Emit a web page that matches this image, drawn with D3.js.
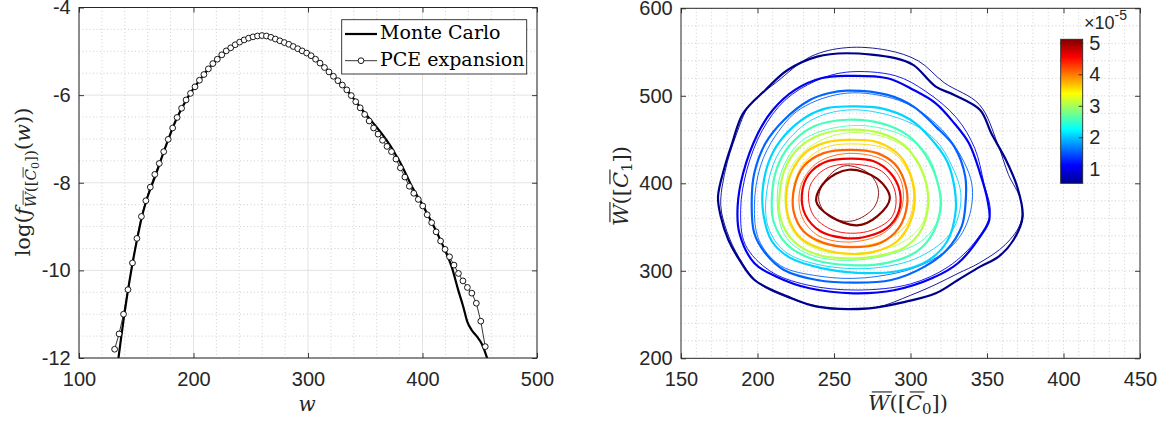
<!DOCTYPE html>
<html>
<head>
<meta charset="utf-8">
<script src="https://cdn.jsdelivr.net/npm/d3@7.9.0/dist/d3.min.js"></script>
<style>
  body { margin: 0; background: #fff; }
  svg { display: block; }
</style>
</head>
<body>
<svg id="chart" width="1161" height="425"></svg>
<script>
// ---- left panel: log density of W([C0]) ----
const wTicks = [100, 200, 300, 400, 500];
const logTicks = [-12, -10, -8, -6, -4];

// PCE expansion (markers)
const pceW = [131.1,135.0,138.9,142.8,146.7,150.6,154.5,158.4,162.3,166.2,
  170.1,174.0,177.9,181.8,185.7,189.6,193.5,197.4,201.3,205.2,
  209.1,213.0,216.9,220.8,224.7,228.6,232.5,236.4,240.3,244.2,
  248.1,252.0,255.9,259.8,263.7,267.6,271.5,275.4,279.3,283.2,
  287.1,291.0,294.9,298.8,302.7,306.6,310.5,314.4,318.3,322.2,
  326.1,330.0,333.9,337.8,341.7,345.6,349.5,353.4,357.3,361.2,
  365.1,369.0,372.9,376.8,380.7,384.6,388.5,392.4,396.3,400.2,
  404.1,408.0,411.9,415.8,419.7,423.6,427.5,431.4,435.3,439.2,
  443.1,447.0,450.9,454.8];
const pceLogF = [-11.80,-11.45,-11.00,-10.44,-9.83,-9.27,-8.77,-8.41,-8.10,-7.81,
  -7.56,-7.29,-7.01,-6.75,-6.51,-6.30,-6.11,-5.96,-5.81,-5.66,
  -5.53,-5.40,-5.28,-5.18,-5.08,-4.99,-4.92,-4.85,-4.79,-4.74,
  -4.70,-4.67,-4.65,-4.64,-4.65,-4.68,-4.72,-4.76,-4.80,-4.84,
  -4.89,-4.94,-4.99,-5.04,-5.10,-5.18,-5.27,-5.37,-5.47,-5.57,
  -5.67,-5.77,-5.88,-6.01,-6.15,-6.29,-6.44,-6.59,-6.75,-6.89,
  -7.03,-7.17,-7.29,-7.46,-7.66,-7.87,-8.08,-8.24,-8.38,-8.53,
  -8.73,-8.91,-9.12,-9.33,-9.52,-9.69,-9.88,-10.07,-10.24,-10.39,
  -10.52,-10.75,-11.16,-11.74];

// Monte Carlo (thick line)
const mcW = [134.2,136.5,138.9,141.9,146.2,150.6,154.9,159.9,166.6,175,
  185,195,205,215,225,235,245,255,260,265,
  275,285,295,305,315,325,335,345,350,357,
  362,367,372,377,382,386,390,395,400,405,
  410,415,419.6,425.5,431.2,435.6,439.1,442.9,447.8,451.6,
  456,457.5];
const mcLogF = [-12.05,-11.60,-11.13,-10.60,-9.92,-9.31,-8.78,-8.32,-7.85,-7.22,
  -6.55,-6.05,-5.67,-5.34,-5.07,-4.87,-4.73,-4.655,-4.64,-4.655,
  -4.75,-4.86,-4.99,-5.15,-5.38,-5.64,-5.92,-6.26,-6.42,-6.64,
  -6.80,-6.97,-7.16,-7.38,-7.61,-7.83,-8.05,-8.28,-8.50,-8.75,
  -9.00,-9.27,-9.54,-9.92,-10.45,-10.83,-11.17,-11.36,-11.52,-11.67,
  -11.97,-12.1];

const legendLabels = ["Monte Carlo", "PCE expansion"];

// ---- right panel: joint density contours of W([C0]), W([C1]) ----
const c0Ticks = [150, 200, 250, 300, 350, 400, 450];
const c1Ticks = [200, 300, 400, 500, 600];
const levels = [0.54, 1.05, 1.56, 2.06, 2.57, 3.08, 3.59, 4.09, 4.60, 5.11]; // x 1e-5
const cbTicks = [1, 2, 3, 4, 5];

// Monte Carlo contours (thick), one ring of [W(C0), W(C1)] per level
const contourMC = [
  [[258,548.6],[290,543],[302,535],[316.5,510.5],[328.6,501],[345.5,483.8],[352.8,457.1],[362.4,426.7],[369.7,396.2],[373.3,362],[367.3,335.2],[357.6,316.2],[345.5,304.8],[331,289.5],[316.5,274.3],[297,264.8],[273,257.1],[239,259],[219.7,270.5],[198,289.5],[188.2,312.4],[181,335.2],[176,362],[174.2,384.8],[178.6,419.1],[183.4,445.7],[190.6,480],[205.2,506.7],[219.7,529.5],[239,544.8]],
  [[258.4,522.7],[285,520],[302,506.7],[316.5,491.4],[328.6,468.6],[338.2,445.7],[345.5,411.4],[350.3,381],[351.5,358.1],[345.5,339],[331,308.6],[314,291.4],[290,278.1],[263,274.3],[234,280],[212.4,293.3],[198,308.6],[188.2,342.9],[187,373.3],[190.6,411.4],[200.3,457.1],[210,483.8],[224.5,506.7],[241.5,520]],
  [[258.4,505.9],[285,501],[302,487.6],[316.5,464.8],[328.6,441.9],[335.8,407.6],[335.8,373.3],[333.4,350.5],[323.7,323.8],[309.2,304.8],[287.4,289.5],[263.2,286.5],[239,289.5],[217.3,301],[205.2,320],[197.9,342.9],[196.2,377.1],[197.9,411.4],[205.2,445.7],[217.3,472.4],[234.2,495.2],[246.3,502.9]],
  [[258.5,487.8],[280.4,485.9],[300,472.6],[313.1,451.6],[324,425],[328.8,394.6],[329.5,368],[324,333.8],[310.9,311],[291.3,299.5],[265.1,297.7],[241.1,303.4],[221.4,314.8],[209.4,333.8],[203.9,364.2],[203.5,394.6],[208.3,428.8],[218.1,455.4],[232.3,476.4],[245.4,485.9]],
  [[258.5,472.6],[280.4,468.8],[297.8,455.4],[309.8,432.6],[317.5,402.2],[319.7,375.6],[315.3,345.2],[304.4,322.4],[284.7,309.1],[260.7,306.4],[236.7,312.9],[219.2,330],[210.5,356.6],[209.4,383.2],[212.7,417.4],[221.4,444.1],[236.7,465]],
  [[258.5,461.2],[280.4,457.4],[295.6,444],[305.5,421.2],[310.9,394.6],[311.4,371.8],[306.6,345.2],[295.6,326.2],[278.2,316.7],[260.7,314],[238.9,318.6],[223.6,333.8],[214.9,360.4],[214.4,387],[218.1,417.4],[226.9,440.2],[241.1,455.4]],
  [[258.5,449.7],[278.2,447.1],[292.4,432.6],[300,409.8],[302.8,383.2],[300,356.6],[291.3,333.8],[276,321.6],[260.7,319.3],[243.2,324.3],[228,337.6],[220.3,360.4],[218.8,387],[222.5,413.6],[232.3,436.4],[245.4,447.1]],
  [[260.7,438.3],[278.2,434.5],[290.2,421.2],[296.7,398.4],[297.8,375.6],[292.4,349],[280.4,331.9],[260.7,327],[243.2,331.9],[230.1,345.2],[223.6,368],[224,394.6],[230.1,419.3],[243.2,434.5]],
  [[260.7,428.1],[276,425.1],[286.9,411.7],[293,390.8],[292.4,368],[284.7,349],[269.4,338.3],[256.3,337.6],[241.1,345.2],[231.2,364.2],[229,387],[233.4,409.8],[244.3,424.3]],
  [[259.6,415.5],[278.2,405.3],[286.5,383.2],[278.2,362.3],[265.1,352],[247.6,362.3],[238.4,379.4],[244.3,402.2]]
];

// PCE contours (thin)
const contourPCE = [
  [[258,555],[285,552],[305,540],[322,515],[345,490],[357,445],[364,410],[372,381],[372,355],[362,330],[345,309],[331,297],[316,284],[300,272],[277,258],[245,258],[222,268],[200,287],[188,315],[180,345],[176,375],[179,415],[186,455],[195,490],[212,515],[235,545]],
  [[258,527],[290,523],[310,505],[330,475],[342,440],[348,400],[352,365],[343,335],[325,305],[300,285],[265,278],[232,284],[208,300],[192,330],[189,370],[193,415],[203,460],[218,495],[238,517]],
  [[258,503],[292,495],[312,475],[328,445],[340,400],[338,360],[328,330],[305,305],[270,292],[240,294],[215,306],[201,335],[198,375],[202,420],[212,455],[228,485]],
  [[262,484],[296,472],[316,450],[327,420],[333,385],[327,345],[306,316],[275,303],[240,307],[218,322],[207,350],[206,390],[214,435],[235,472]],
  [[262,466],[292,457],[310,435],[318,400],[320,370],[310,338],[285,318],[255,312],[232,320],[218,340],[213,375],[216,415],[230,450]],
  [[262,458],[290,448],[305,425],[311,390],[308,355],[294,332],[265,320],[240,324],[224,343],[218,378],[222,418],[238,446]],
  [[262,445],[286,438],[298,415],[302,385],[297,352],[280,333],[258,328],[238,334],[226,356],[223,388],[229,420],[243,440]],
  [[258,434],[283,426],[294,402],[294,370],[284,345],[262,333],[240,340],[229,362],[228,395],[238,422]],
  [[258,422],[281,414],[290,390],[288,362],[272,345],[250,346],[236,365],[234,395],[243,415]],
  [[257,420],[273,411],[279,392],[276,372],[262,357],[247,362],[240,382],[245,405]]
];

// ---- layout ----
const svg = d3.select("#chart");
const ink = "#262626";
const tickFont = "Liberation Sans, Arial, sans-serif";
const mathFont = "DejaVu Serif, serif";

const L = {x0: 79, x1: 537, y0: 7.5, y1: 358};
const R = {x0: 681, x1: 1140, y0: 8.3, y1: 358.3};

const xL = d3.scaleLinear().domain([100, 500]).range([L.x0, L.x1]);
const yL = d3.scaleLinear().domain([-12, -4]).range([L.y1, L.y0]);
const xR = d3.scaleLinear().domain([150, 450]).range([R.x0, R.x1]);
const yR = d3.scaleLinear().domain([200, 600]).range([R.y1, R.y0]);

// jet colormap
const jet = d3.scaleLinear()
  .domain([0, 0.125, 0.375, 0.625, 0.875, 1])
  .range(["#00008f", "#0000ff", "#00ffff", "#ffff00", "#ff0000", "#800000"]);
const levelColor = d3.scaleLinear().domain([levels[0], levels[levels.length - 1]]).range([0, 1]);

const defs = svg.append("defs");
defs.append("clipPath").attr("id", "clipL").append("rect")
  .attr("x", L.x0).attr("y", L.y0).attr("width", L.x1 - L.x0).attr("height", L.y1 - L.y0);
defs.append("clipPath").attr("id", "clipR").append("rect")
  .attr("x", R.x0).attr("y", R.y0).attr("width", R.x1 - R.x0).attr("height", R.y1 - R.y0);

function grid(g, x, y, xs, ys, box, color, dash) {
  g.selectAll(null).data(xs).join("line")
    .attr("x1", d => x(d)).attr("x2", d => x(d)).attr("y1", box.y0).attr("y2", box.y1)
    .attr("stroke", color).attr("stroke-width", 0.8).attr("stroke-dasharray", dash);
  g.selectAll(null).data(ys).join("line")
    .attr("y1", d => y(d)).attr("y2", d => y(d)).attr("x1", box.x0).attr("x2", box.x1)
    .attr("stroke", color).attr("stroke-width", 0.8).attr("stroke-dasharray", dash);
}

function axes(x, y, xt, yt, box) {
  const g = svg.append("g");
  const b = g.append("g").attr("transform", `translate(0,${box.y1})`)
    .call(d3.axisBottom(x).tickValues(xt).tickSize(-5).tickSizeOuter(0).tickPadding(13.8).tickFormat(d => String(d)));
  const t = g.append("g").attr("transform", `translate(0,${box.y0})`)
    .call(d3.axisTop(x).tickValues(xt).tickSize(-5).tickSizeOuter(0).tickFormat(""));
  const l = g.append("g").attr("transform", `translate(${box.x0},0)`)
    .call(d3.axisLeft(y).tickValues(yt).tickSize(-5).tickSizeOuter(0).tickPadding(8.3).tickFormat(d => String(d)));
  const r = g.append("g").attr("transform", `translate(${box.x1},0)`)
    .call(d3.axisRight(y).tickValues(yt).tickSize(-5).tickSizeOuter(0).tickFormat(""));
  [b, t, l, r].forEach(a => {
    a.select(".domain").remove();
    a.selectAll("line").attr("stroke", ink).attr("stroke-width", 0.9);
    a.selectAll("text").attr("fill", ink).attr("font-family", tickFont).attr("font-size", 20);
  });
  g.append("rect").attr("x", box.x0).attr("y", box.y0)
    .attr("width", box.x1 - box.x0).attr("height", box.y1 - box.y0)
    .attr("fill", "none").attr("stroke", ink).attr("stroke-width", 1);
}

// math label: parts = [{t, it, bar, fs, dy}]
function mathLabel(transform, size, parts) {
  const g = svg.append("g").attr("transform", transform);
  const t = g.append("text").attr("text-anchor", "middle")
    .attr("font-family", mathFont).attr("font-size", size).attr("fill", ink);
  const bars = [];
  parts.forEach(p => {
    const s = t.append("tspan").text(p.t);
    if (p.it) s.attr("font-style", "italic");
    if (p.fs) s.attr("font-size", p.fs);
    if (p.dy) s.attr("dy", p.dy);
    if (p.bar) bars.push([s.node(), p.fs || size]);
  });
  bars.forEach(([node, fs]) => {
    const ext = node.getExtentOfChar(0);
    const base = node.getStartPositionOfChar(0).y;
    const yy = base - 0.86 * fs;
    g.append("line")
      .attr("x1", ext.x + 0.18 * fs).attr("x2", ext.x + ext.width + 0.12 * fs)
      .attr("y1", yy).attr("y2", yy)
      .attr("stroke", ink).attr("stroke-width", Math.max(0.8, fs * 0.055));
  });
}

// ---- left panel ----
const gridL = svg.append("g");
grid(gridL, xL, yL, d3.range(100, 501, 20).filter(v => v % 100), d3.range(-12, -3.9, 0.5).filter(v => v % 2), L, "#c4c4c4", "1,2.5");
grid(gridL, xL, yL, wTicks, logTicks, L, "#dcdcdc", null);

const plotL = svg.append("g").attr("clip-path", "url(#clipL)");
const mcPts = mcW.map((w, i) => [w, mcLogF[i]]);
const pcePts = pceW.map((w, i) => [w, pceLogF[i]]);

plotL.append("path").datum(mcPts)
  .attr("d", d3.line().x(d => xL(d[0])).y(d => yL(d[1])).curve(d3.curveMonotoneX))
  .attr("fill", "none").attr("stroke", "#000").attr("stroke-width", 2.2);
plotL.append("path").datum(pcePts)
  .attr("d", d3.line().x(d => xL(d[0])).y(d => yL(d[1])))
  .attr("fill", "none").attr("stroke", "#000").attr("stroke-width", 0.8);
plotL.selectAll("circle").data(pcePts).join("circle")
  .attr("cx", d => xL(d[0])).attr("cy", d => yL(d[1])).attr("r", 2.9)
  .attr("fill", "#fff").attr("stroke", "#000").attr("stroke-width", 0.9);

axes(xL, yL, wTicks, logTicks, L);

// legend
const lg = svg.append("g");
lg.append("rect").attr("x", 341.7).attr("y", 19.7).attr("width", 185).attr("height", 54.3)
  .attr("fill", "#fff").attr("stroke", ink).attr("stroke-width", 0.9);
legendLabels.forEach((lab, i) => {
  const yy = 34 + i * 26.7;
  lg.append("line").attr("x1", 345).attr("x2", 377).attr("y1", yy).attr("y2", yy)
    .attr("stroke", "#000").attr("stroke-width", i === 0 ? 2.2 : 0.8);
  if (i === 1) lg.append("circle").attr("cx", 361).attr("cy", yy).attr("r", 2.9)
    .attr("fill", "#fff").attr("stroke", "#000").attr("stroke-width", 0.9);
  lg.append("text").attr("x", 380).attr("y", yy + 4.8).text(lab)
    .attr("font-family", mathFont).attr("font-size", 19).attr("fill", "#000");
});

// axis labels, left
mathLabel("translate(307,411)", 20, [{t: "w", it: true}]);
mathLabel("translate(30,182) rotate(-90)", 21, [
  {t: "log("}, {t: "f", it: true},
  {t: "W", it: true, bar: true, fs: 15, dy: 6},
  {t: "([", fs: 15},
  {t: "C", it: true, bar: true, fs: 15},
  {t: "0", fs: 11, dy: 3},
  {t: "])", fs: 15, dy: -3},
  {t: "(", dy: -6}, {t: "w", it: true}, {t: "))"}
]);

// ---- right panel ----
const gridR = svg.append("g");
grid(gridR, xR, yR, d3.range(160, 450, 10), d3.range(220, 600, 20), R, "#c4c4c4", "1,2.5");

const plotR = svg.append("g").attr("clip-path", "url(#clipR)");
const ring = d3.line().x(d => xR(d[0])).y(d => yR(d[1])).curve(d3.curveCatmullRomClosed.alpha(0.5));
contourPCE.forEach((pts, i) => {
  plotR.append("path").attr("d", ring(pts)).attr("fill", "none")
    .attr("stroke", jet(levelColor(levels[i]))).attr("stroke-width", 0.9);
});
contourMC.forEach((pts, i) => {
  plotR.append("path").attr("d", ring(pts)).attr("fill", "none")
    .attr("stroke", jet(levelColor(levels[i]))).attr("stroke-width", 2.2);
});

axes(xR, yR, c0Ticks, c1Ticks, R);

// colorbar
const cb = {x0: 1060.7, x1: 1082.7, y0: 39.3, y1: 183.3};
const yCb = d3.scaleLinear().domain([levels[0], levels[levels.length - 1]]).range([cb.y1, cb.y0]);
const grad = defs.append("linearGradient").attr("id", "jetGrad")
  .attr("x1", 0).attr("y1", 1).attr("x2", 0).attr("y2", 0);
d3.range(0, 1.0001, 0.025).forEach(t => {
  grad.append("stop").attr("offset", t).attr("stop-color", jet(t));
});
svg.append("rect").attr("x", cb.x0).attr("y", cb.y0).attr("width", cb.x1 - cb.x0).attr("height", cb.y1 - cb.y0)
  .attr("fill", "url(#jetGrad)");
const cbAxis = svg.append("g").attr("transform", `translate(${cb.x1},0)`)
  .call(d3.axisRight(yCb).tickValues(cbTicks).tickSize(-4).tickSizeOuter(0).tickPadding(6.6).tickFormat(d => String(d)));
cbAxis.select(".domain").remove();
cbAxis.selectAll("line").attr("stroke", ink).attr("stroke-width", 0.9);
cbAxis.selectAll("text").attr("fill", ink).attr("font-family", tickFont).attr("font-size", 20);
svg.append("rect").attr("x", cb.x0).attr("y", cb.y0).attr("width", cb.x1 - cb.x0).attr("height", cb.y1 - cb.y0)
  .attr("fill", "none").attr("stroke", ink).attr("stroke-width", 0.9);
const expo = svg.append("text").attr("x", 1084).attr("y", 28.5)
  .attr("font-family", tickFont).attr("font-size", 18).attr("fill", ink);
expo.append("tspan").text("\u00d710");
expo.append("tspan").attr("dy", -9).attr("font-size", 14).text("-5");

// axis labels, right
mathLabel("translate(908,410)", 21, [
  {t: "W", it: true, bar: true}, {t: "(["}, {t: "C", it: true, bar: true},
  {t: "0", fs: 15, dy: 4}, {t: "])", dy: -4}
]);
mathLabel("translate(628,186) rotate(-90)", 21, [
  {t: "W", it: true, bar: true}, {t: "(["}, {t: "C", it: true, bar: true},
  {t: "1", fs: 15, dy: 4}, {t: "])", dy: -4}
]);
</script>
</body>
</html>
